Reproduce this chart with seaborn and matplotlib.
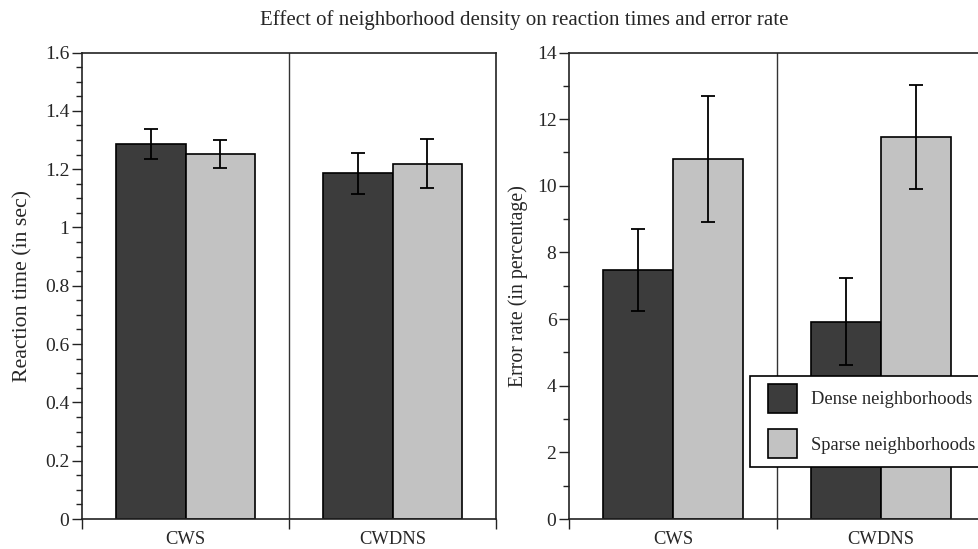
import matplotlib
matplotlib.use("Agg")
import matplotlib.pyplot as plt
import seaborn as sns
import pandas as pd
import numpy as np
from matplotlib.ticker import MultipleLocator, FixedLocator
from matplotlib.legend_handler import HandlerPatch

conditions = ["CWS", "CWDNS"]
groups = ["Dense neighborhoods", "Sparse neighborhoods"]
rt_mean = {"Dense neighborhoods": [1.286, 1.186], "Sparse neighborhoods": [1.251, 1.219]}
rt_err = {"Dense neighborhoods": [0.051, 0.070], "Sparse neighborhoods": [0.048, 0.083]}
er_mean = {"Dense neighborhoods": [7.47, 5.92], "Sparse neighborhoods": [10.80, 11.47]}
er_err = {"Dense neighborhoods": [1.24, 1.31], "Sparse neighborhoods": [1.90, 1.56]}

colors = ["#3c3c3c", "#c2c2c2"]

sns.set_theme(style="white")
plt.rcParams["font.family"] = ["Liberation Serif", "DejaVu Serif"]

def make_df(means):
    rows = []
    for g in groups:
        for c, v in zip(conditions, means[g]):
            rows.append({"condition": c, "group": g, "value": v})
    return pd.DataFrame(rows)

fig = plt.figure(figsize=(9.79, 5.49), dpi=100)
ax1 = fig.add_axes([82/979, 1-519/549, (496-82)/979, (519-52.5)/549])
ax2 = fig.add_axes([569/979, 1-519/549, (985-569)/979, (519-52.5)/549])

def draw(ax, means, errs, ylim, major, minor, ylabel, fmt, labelsize, labelpad):
    df = make_df(means)
    sns.barplot(data=df, x="condition", y="value", hue="group", order=conditions,
                hue_order=groups, palette=colors, width=0.67, errorbar=None,
                edgecolor="black", linewidth=1.2, saturation=1, ax=ax, legend=True)
    for g, cont in zip(groups, ax.containers):
        xs = [p.get_x() + p.get_width()/2 for p in cont.patches]
        ys = [p.get_height() for p in cont.patches]
        ax.errorbar(xs, ys, yerr=errs[g], fmt="none", ecolor="black",
                    elinewidth=1.3, capsize=5, capthick=1.3, zorder=5)
    ax.set_xlim(-0.5, 1.5)
    ax.set_ylim(*ylim)
    ax.axvline(0.5, color="#333333", lw=1.0, zorder=0)
    for s in ax.spines.values():
        s.set_visible(True)
        s.set_color("#222222")
        s.set_linewidth(1.2)
    ax.yaxis.set_major_locator(MultipleLocator(major))
    ax.yaxis.set_minor_locator(MultipleLocator(minor))
    ax.yaxis.set_major_formatter(matplotlib.ticker.FuncFormatter(fmt))
    ax.tick_params(axis="y", which="major", direction="out", length=7, width=1.0,
                   left=True, labelsize=14, pad=2, color="#222222")
    ax.tick_params(axis="y", which="minor", direction="out", length=4, width=1.0,
                   left=True, color="#222222")
    ax.set_xticks([0, 1])
    ax.set_xticklabels(conditions)
    ax.xaxis.set_minor_locator(FixedLocator([-0.5, 0.5, 1.5]))
    ax.tick_params(axis="x", which="major", length=0, labelsize=13.3, pad=9)
    ax.tick_params(axis="x", which="minor", direction="out", length=7, width=1.0,
                   bottom=True, color="#222222")
    ax.set_xlabel("")
    ax.set_ylabel(ylabel, fontsize=labelsize, labelpad=labelpad)

def fmt_rt(v, pos):
    if abs(v) < 1e-9:
        return "0"
    if abs(v - round(v)) < 1e-9:
        return str(int(round(v)))
    return f"{v:.1f}"

def fmt_er(v, pos):
    return str(int(round(v)))

draw(ax1, rt_mean, rt_err, (0, 1.6), 0.2, 0.05, "Reaction time (in sec)", fmt_rt, 15.7, 9)
draw(ax2, er_mean, er_err, (0, 14), 2, 1, "Error rate (in percentage)", fmt_er, 14.3, 6)

ax1.get_legend().remove()
handles, labels = ax2.get_legend_handles_labels()
ax2.get_legend().remove()
hmap = {h: HandlerPatch(xpad=0.5) for h in handles[:2]}
leg = ax2.legend(handles[:2], labels[:2], loc="upper left",
                 bbox_to_anchor=((750-569)/416, (519-375.7)/466.5),
                 frameon=True, fancybox=False, edgecolor="black", framealpha=1,
                 fontsize=13.3, handlelength=2.1, handleheight=2.03,
                 handletextpad=0.75, labelspacing=0.89, borderpad=0.45,
                 borderaxespad=0, handler_map=hmap)
leg.get_frame().set_linewidth(1.2)

fig.suptitle("Effect of neighborhood density on reaction times and error rate",
             x=0.535, y=0.982, fontsize=15, va="top")

fig.savefig("out.png", dpi=100)
